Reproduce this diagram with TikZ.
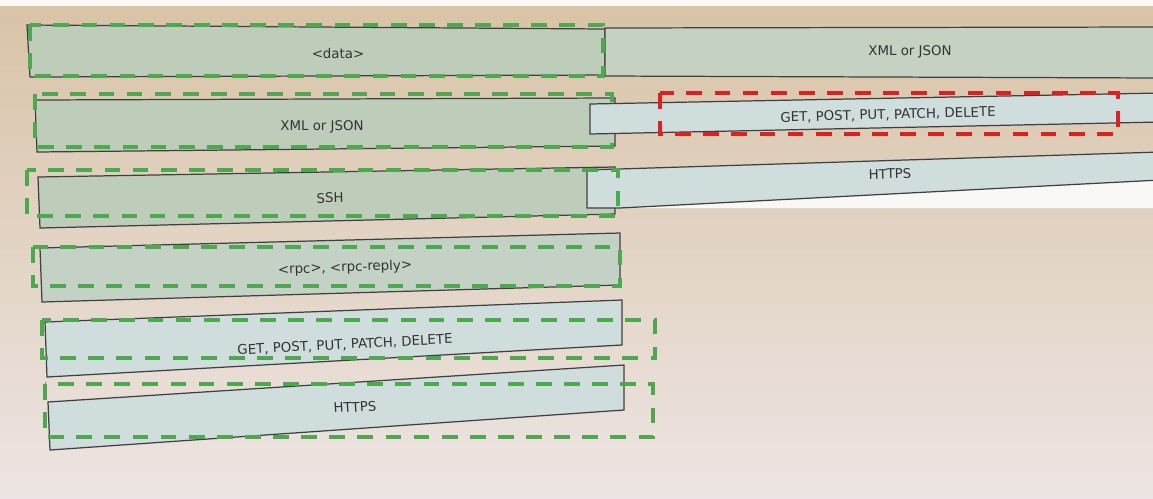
\documentclass[tikz,border=0pt]{standalone}
\usepackage{fontspec}
\setmainfont{DejaVu Sans}
\definecolor{bgtop}{RGB}{216,195,166}
\definecolor{bgbot}{RGB}{237,229,227}
\definecolor{slgreen}{RGB}{190,205,186}
\definecolor{slblue}{RGB}{207,221,221}
\definecolor{dashgreen}{RGB}{78,168,80}
\definecolor{dashred}{RGB}{224,32,32}
\usetikzlibrary{calc}

\begin{document}
\begin{tikzpicture}[x=0.02cm,y=-0.02cm,
  pane/.style={draw=black!75,line width=0.7pt},
  frame/.style={dashgreen,line width=2.1pt,dash pattern=on 9pt off 7pt},
  lbl/.style={font=\fontsize{7.6}{9}\selectfont,text=black!80}]
  \useasboundingbox (0,0) rectangle (1153,498);
  \clip (0,0) rectangle (1153,498);
  \shade[top color=bgtop,bottom color=bgbot] (0,0) rectangle (1153,498);
  \fill[white!90!bgtop] (0,0) rectangle (1153,6);
  % top row
  \filldraw[pane,fill=slgreen] (27,25) -- (605,29) -- (605,75) -- (30,77) -- cycle;
  \filldraw[pane,fill=slgreen!90!white] (605,76) -- (605,28) -- (1160,27) -- (1160,78) -- cycle;
  \draw[frame] (30,25) rectangle (603,76);
  \node[lbl] (data) at (338,54) {<data>};
  \node[lbl] (xmlR) at (910,52) {XML or JSON};
  % second row
  \filldraw[pane,fill=slgreen] (35,100) -- (615,98) -- (615,146) -- (37,152) -- cycle;
  \draw[frame] (35,94) rectangle (612,147);
  \filldraw[pane,fill=slblue] (590,104) -- (1160,93) -- (1160,122) -- (590,134) -- cycle;
  \draw[frame,dashred] (660,93) rectangle (1118,134);
  \node[lbl] (xmlL) at (322,127) {XML or JSON};
  \node[lbl,rotate=1.5] (getR) at (888,115) {GET, POST, PUT, PATCH, DELETE};
  % third row
  \filldraw[pane,fill=slgreen] (38,177) -- (615,167) -- (615,214) -- (40,228) -- cycle;
  \fill[white!70!bgbot] (620,180) -- (1160,178) -- (1160,208) -- (620,208) -- cycle;
  \filldraw[pane,fill=slblue] (587,208) -- (587,170) -- (1160,152) -- (1160,180) -- (620,208) -- cycle;
  \draw[frame] (27,170) rectangle (618,216);
  \node[lbl,rotate=1] (ssh) at (330,198) {SSH};
  \node[lbl,rotate=1.5] (httpsR) at (890,174) {HTTPS};
  % left stack
  \filldraw[pane,fill=slgreen!70!slblue] (40,248) -- (620,233) -- (620,285) -- (42,302) -- cycle;
  \draw[frame] (33,247) rectangle (620,286);
  \node[lbl,rotate=2] (rpc) at (345,268) {<rpc>, <rpc-reply>};
  \filldraw[pane,fill=slblue] (45,322) -- (622,300) -- (622,345) -- (47,377) -- cycle;
  \draw[frame] (42,320) rectangle (655,358);
  \node[lbl,rotate=3] (getL) at (345,345) {GET, POST, PUT, PATCH, DELETE};
  \filldraw[pane,fill=slblue] (48,402) -- (624,365) -- (624,410) -- (50,450) -- cycle;
  \draw[frame] (45,384) rectangle (653,437);
  \node[lbl,rotate=3] (httpsL) at (355,407) {HTTPS};
\end{tikzpicture}
\end{document}
